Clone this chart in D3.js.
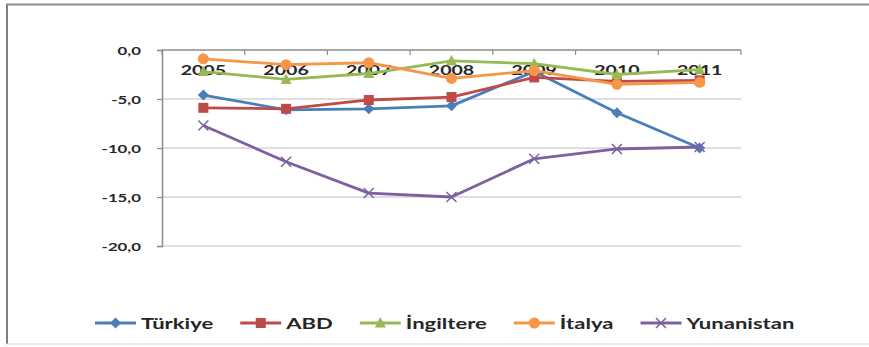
<!DOCTYPE html>
<html><head><meta charset="utf-8">
<script src="https://cdn.jsdelivr.net/npm/d3@7"></script>
<style>
body{margin:0;background:#fff;}
svg{display:block;}
</style></head>
<body>
<svg id="chart" width="869" height="347"></svg>
<script>
const years = ["2005","2006","2007","2008","2009","2010","2011"];
const turkiye    = [-4.6, -6.1, -6.0, -5.7, -2.2, -6.4, -10.0];
const abd        = [-5.9, -6.0, -5.1, -4.8, -2.8, -3.2, -3.1];
const ingiltere  = [-2.2, -3.0, -2.4, -1.1, -1.4, -2.5, -2.0];
const italya     = [-0.9, -1.5, -1.3, -2.9, -2.1, -3.5, -3.3];
const yunanistan = [-7.7, -11.4, -14.6, -15.0, -11.1, -10.1, -9.9];
const yTicks = [0, -5, -10, -15, -20];
const seriesNames = ["Türkiye","ABD","İngiltere","İtalya","Yunanistan"];
const seriesColors = ["#4a7ebb","#be4b48","#98b954","#f79646","#7d60a0"];
const seriesMarkers = ["diamond","square","triangle","circle","cross"];
const seriesValues = [turkiye, abd, ingiltere, italya, yunanistan];

const svg = d3.select("#chart");
const FONT = "Lato, 'Open Sans', sans-serif";
const SX = 1.4;
const SXL = 1.47;

// frame
svg.append("line").attr("x1",7).attr("x2",7).attr("y1",4).attr("y2",344).attr("stroke","#7f7f7f").attr("stroke-width",2);
svg.append("line").attr("x1",6).attr("x2",869).attr("y1",4.5).attr("y2",4.5).attr("stroke","#8c8c8c").attr("stroke-width",2);
svg.append("line").attr("x1",6).attr("x2",869).attr("y1",344).attr("y2",344).attr("stroke","#d9d9d9").attr("stroke-width",1);

const x = d3.scaleBand().domain(years).range([162, 741]);
const y = d3.scaleLinear().domain([-20, 0]).range([246, 50]);

// gridlines
svg.append("g").selectAll("line").data(yTicks.filter(t => t !== 0)).join("line")
  .attr("x1",162).attr("x2",741)
  .attr("y1",d=>y(d)).attr("y2",d=>y(d))
  .attr("stroke","#bfbfbf").attr("stroke-width",1.2);

// y axis
const yAxis = d3.axisLeft(y).tickValues(yTicks).tickSize(5).tickFormat(d => d3.format(".1f")(d).replace(".", ",").replace("−","-"));
const gy = svg.append("g").attr("transform","translate(162,0)").call(yAxis);
gy.select(".domain").attr("stroke","#8c8c8c").attr("stroke-width",1.5);
gy.selectAll(".tick line").attr("stroke","#8c8c8c").attr("stroke-width",1.2);
gy.selectAll(".tick text").each(function(d){
  const t = d3.select(this);
  t.attr("x",null).attr("dy",null)
   .attr("font-family",FONT).attr("font-weight","bold").attr("font-size",12).attr("fill","#262626")
   .attr("text-anchor","end")
   .attr("transform",`translate(-21,4.5) scale(${SX},1)`);
});

// x axis at y=0
const gx = svg.append("g").attr("transform",`translate(0,${y(0)})`);
gx.append("line").attr("x1",162).attr("x2",741).attr("y1",0).attr("y2",0).attr("stroke","#8c8c8c").attr("stroke-width",1.5);
const bounds = years.map(d => x(d)).concat([741]);
gx.selectAll("line.tk").data(bounds).join("line").attr("class","tk")
  .attr("x1",d=>d).attr("x2",d=>d).attr("y1",0).attr("y2",5)
  .attr("stroke","#8c8c8c").attr("stroke-width",1.2);

// lines & markers
function marker(g, type, color, cx, cy){
  if(type==="diamond"){
    g.append("path").attr("d",`M${cx},${cy-5.5}L${cx+5.5},${cy}L${cx},${cy+5.5}L${cx-5.5},${cy}Z`).attr("fill",color);
  } else if(type==="square"){
    g.append("rect").attr("x",cx-5).attr("y",cy-5).attr("width",10).attr("height",10).attr("fill",color);
  } else if(type==="triangle"){
    g.append("path").attr("d",`M${cx},${cy-6}L${cx+5.5},${cy+4.5}L${cx-5.5},${cy+4.5}Z`).attr("fill",color);
  } else if(type==="circle"){
    g.append("circle").attr("cx",cx).attr("cy",cy).attr("r",5.5).attr("fill",color);
  } else {
    g.append("path").attr("d",`M${cx-5},${cy-5}L${cx+5},${cy+5}M${cx-5},${cy+5}L${cx+5},${cy-5}`).attr("stroke",color).attr("stroke-width",1.5);
  }
}
const line = d3.line().x((d,i)=>x(years[i]) + x.bandwidth()/2).y(d=>y(d));
seriesValues.forEach((vals, si) => {
  const g = svg.append("g");
  g.append("path").attr("d", line(vals)).attr("fill","none").attr("stroke",seriesColors[si]).attr("stroke-width",2.8).attr("stroke-linejoin","round");
  vals.forEach((v,i) => marker(g, seriesMarkers[si], seriesColors[si], x(years[i]) + x.bandwidth()/2, y(v)));
});

// category labels (drawn over data)
gx.selectAll("text").data(years).join("text")
  .attr("transform", d => `translate(${x(d)+x.bandwidth()/2},25) scale(${SX},1)`)
  .attr("text-anchor","middle")
  .attr("font-family",FONT).attr("font-weight","bold").attr("font-size",14).attr("fill","#262626")
  .text(d=>d);

// legend
const leg = svg.append("g");
let lx = 95;
const ly = 323;
seriesNames.forEach((name, si) => {
  const g = leg.append("g");
  g.append("line").attr("x1",lx).attr("x2",lx+41).attr("y1",ly).attr("y2",ly).attr("stroke",seriesColors[si]).attr("stroke-width",2.8);
  marker(g, seriesMarkers[si], seriesColors[si], lx+20.5, ly);
  const t = g.append("text")
    .attr("transform",`translate(${lx+46},${ly+5.5}) scale(${SXL},1)`)
    .attr("font-family",FONT).attr("font-weight","bold").attr("font-size",15).attr("fill","#262626")
    .text(name);
  const w = t.node().getComputedTextLength() * SXL;
  lx = lx + 46 + w + 27;
});
</script>
</body></html>
